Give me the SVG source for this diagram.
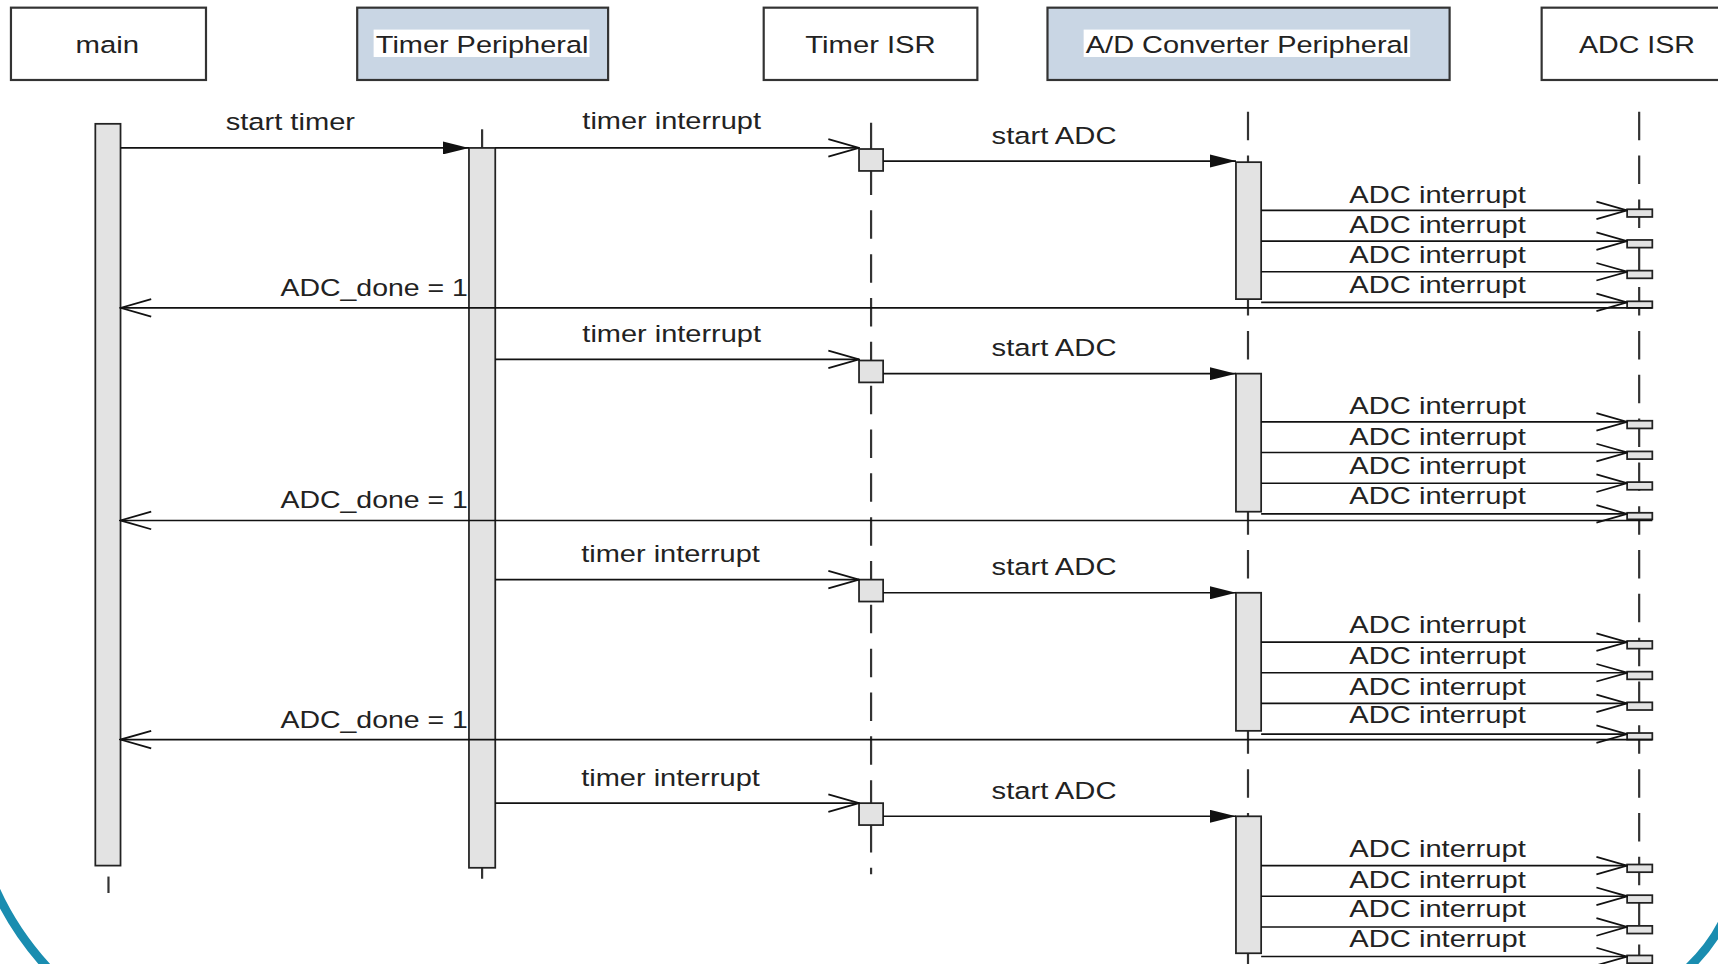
<svg xmlns="http://www.w3.org/2000/svg" width="1718" height="964" viewBox="0 0 1718 964">
<defs>
<style>
.box{stroke:#333;stroke-width:2}
.w{fill:#fff}
.b{fill:#c9d6e4}
.t{font-family:"Liberation Sans",Arial,sans-serif;font-size:22px;fill:#222;text-anchor:middle}
.msg{stroke:#111;stroke-width:1.5;fill:none}
.act{fill:#e3e3e3;stroke:#222;stroke-width:1.6}
.life{stroke:#333;stroke-width:2;stroke-dasharray:26 14;fill:none}
.tick{stroke:#333;stroke-width:2}
.sync{marker-end:url(#fill)}
.async{marker-end:url(#open)}
</style>
<marker id="fill" viewBox="0 0 24 12" refX="24" refY="6" markerWidth="24" markerHeight="12" markerUnits="userSpaceOnUse" orient="auto">
<path d="M0,0 L24,6 L0,12 z" fill="#111"/>
</marker>
<marker id="open" viewBox="0 0 30 20" refX="29" refY="10" markerWidth="30" markerHeight="20" markerUnits="userSpaceOnUse" orient="auto">
<path d="M1,2 L29,10 L1,18" fill="none" stroke="#111" stroke-width="1.6"/>
</marker>
</defs>
<rect width="1718" height="964" fill="#fff"/>
<g transform="scale(1.0957)">
<g id="node-main">
<rect class="box w" x="10" y="7" width="178" height="66"/>
<text class="t" x="98" y="48" textLength="58" lengthAdjust="spacingAndGlyphs">main</text>
</g>
<g id="node-timer-peripheral">
<rect class="box b" x="326" y="7" width="229" height="66"/>
<rect x="341" y="27" width="197" height="25" fill="#fff"/>
<text class="t" x="440" y="48" textLength="194" lengthAdjust="spacingAndGlyphs">Timer Peripheral</text>
</g>
<g id="node-timer-isr">
<rect class="box w" x="697" y="7" width="195" height="66"/>
<text class="t" x="794.5" y="48" textLength="119" lengthAdjust="spacingAndGlyphs">Timer ISR</text>
</g>
<g id="node-adc-peripheral">
<rect class="box b" x="956" y="7" width="367" height="66"/>
<rect x="989" y="27" width="298" height="25" fill="#fff"/>
<text class="t" x="1138.5" y="48" textLength="295" lengthAdjust="spacingAndGlyphs">A/D Converter Peripheral</text>
</g>
<g id="node-adc-isr">
<rect class="box w" x="1407" y="7" width="190" height="66"/>
<text class="t" x="1494" y="48" textLength="106" lengthAdjust="spacingAndGlyphs">ADC ISR</text>
</g>

<g id="lifelines">
<line class="life" x1="795" y1="112" x2="795" y2="798"/>
<line class="life" x1="1139" y1="102" x2="1139" y2="880"/>
<line class="life" x1="1496" y1="102" x2="1496" y2="880"/>
<line class="tick" x1="99" y1="800" x2="99" y2="815"/>
<line class="tick" x1="440" y1="118" x2="440" y2="135"/>
<line class="tick" x1="440" y1="792" x2="440" y2="802"/>
<rect class="act" x="87" y="113" width="23" height="677"/>
<rect class="act" x="428" y="135" width="24" height="657"/>
<rect class="act" x="1128" y="148" width="23" height="125"/>
<rect class="act" x="1128" y="341" width="23" height="126"/>
<rect class="act" x="1128" y="541" width="23" height="126"/>
<rect class="act" x="1128" y="745" width="23" height="125"/>
<rect class="act" x="784" y="136" width="22" height="20"/>
<rect class="act" x="784" y="329" width="22" height="20"/>
<rect class="act" x="784" y="529" width="22" height="20"/>
<rect class="act" x="784" y="733" width="22" height="20"/>
</g>

<g id="adc-isr-activations">
<rect class="act" x="1485" y="191" width="23" height="7"/>
<rect class="act" x="1485" y="219" width="23" height="7"/>
<rect class="act" x="1485" y="247" width="23" height="7"/>
<rect class="act" x="1485" y="275" width="23" height="6"/>
<rect class="act" x="1485" y="384" width="23" height="7"/>
<rect class="act" x="1485" y="412" width="23" height="7"/>
<rect class="act" x="1485" y="440" width="23" height="7"/>
<rect class="act" x="1485" y="468" width="23" height="6"/>
<rect class="act" x="1485" y="585" width="23" height="7"/>
<rect class="act" x="1485" y="613" width="23" height="7"/>
<rect class="act" x="1485" y="641" width="23" height="7"/>
<rect class="act" x="1485" y="669" width="23" height="6"/>
<rect class="act" x="1485" y="789" width="23" height="7"/>
<rect class="act" x="1485" y="817" width="23" height="7"/>
<rect class="act" x="1485" y="845" width="23" height="7"/>
<rect class="act" x="1485" y="872" width="23" height="7"/>
</g>

<g id="connectors">
<line class="msg sync" x1="110" y1="135" x2="428" y2="135"/>
<!-- cycle 1 -->
<line class="msg async" x1="452" y1="135" x2="784" y2="135"/>
<line class="msg sync" x1="806" y1="147" x2="1128" y2="147"/>
<line class="msg async" x1="1151" y1="192" x2="1485" y2="192"/>
<line class="msg async" x1="1151" y1="220" x2="1485" y2="220"/>
<line class="msg async" x1="1151" y1="248" x2="1485" y2="248"/>
<line class="msg async" x1="1151" y1="276" x2="1485" y2="276"/>
<line class="msg async" x1="1508" y1="281" x2="110" y2="281"/>
<!-- cycle 2 -->
<line class="msg async" x1="452" y1="328" x2="784" y2="328"/>
<line class="msg sync" x1="806" y1="341" x2="1128" y2="341"/>
<line class="msg async" x1="1151" y1="385" x2="1485" y2="385"/>
<line class="msg async" x1="1151" y1="413" x2="1485" y2="413"/>
<line class="msg async" x1="1151" y1="441" x2="1485" y2="441"/>
<line class="msg async" x1="1151" y1="469" x2="1485" y2="469"/>
<line class="msg async" x1="1508" y1="475" x2="110" y2="475"/>
<!-- cycle 3 -->
<line class="msg async" x1="452" y1="529" x2="784" y2="529"/>
<line class="msg sync" x1="806" y1="541" x2="1128" y2="541"/>
<line class="msg async" x1="1151" y1="586" x2="1485" y2="586"/>
<line class="msg async" x1="1151" y1="614" x2="1485" y2="614"/>
<line class="msg async" x1="1151" y1="642" x2="1485" y2="642"/>
<line class="msg async" x1="1151" y1="670" x2="1485" y2="670"/>
<line class="msg async" x1="1508" y1="675" x2="110" y2="675"/>
<!-- cycle 4 -->
<line class="msg async" x1="452" y1="733" x2="784" y2="733"/>
<line class="msg sync" x1="806" y1="745" x2="1128" y2="745"/>
<line class="msg async" x1="1151" y1="790" x2="1485" y2="790"/>
<line class="msg async" x1="1151" y1="818" x2="1485" y2="818"/>
<line class="msg async" x1="1151" y1="846" x2="1485" y2="846"/>
<line class="msg async" x1="1151" y1="873" x2="1485" y2="873"/>
</g>

<g id="labels">
<text class="t" x="265" y="119" textLength="118" lengthAdjust="spacingAndGlyphs">start timer</text>

<text class="t" x="613" y="118" textLength="163" lengthAdjust="spacingAndGlyphs">timer interrupt</text>
<text class="t" x="962" y="131" textLength="114" lengthAdjust="spacingAndGlyphs">start ADC</text>
<text class="t" x="1312" y="185" textLength="161" lengthAdjust="spacingAndGlyphs">ADC interrupt</text>
<text class="t" x="1312" y="213" textLength="161" lengthAdjust="spacingAndGlyphs">ADC interrupt</text>
<text class="t" x="1312" y="240" textLength="161" lengthAdjust="spacingAndGlyphs">ADC interrupt</text>
<text class="t" x="1312" y="267" textLength="161" lengthAdjust="spacingAndGlyphs">ADC interrupt</text>
<text class="t" x="341.5" y="270" textLength="171" lengthAdjust="spacingAndGlyphs">ADC_done = 1</text>

<text class="t" x="613" y="312" textLength="163" lengthAdjust="spacingAndGlyphs">timer interrupt</text>
<text class="t" x="962" y="325" textLength="114" lengthAdjust="spacingAndGlyphs">start ADC</text>
<text class="t" x="1312" y="378" textLength="161" lengthAdjust="spacingAndGlyphs">ADC interrupt</text>
<text class="t" x="1312" y="406" textLength="161" lengthAdjust="spacingAndGlyphs">ADC interrupt</text>
<text class="t" x="1312" y="433" textLength="161" lengthAdjust="spacingAndGlyphs">ADC interrupt</text>
<text class="t" x="1312" y="460" textLength="161" lengthAdjust="spacingAndGlyphs">ADC interrupt</text>
<text class="t" x="341.5" y="464" textLength="171" lengthAdjust="spacingAndGlyphs">ADC_done = 1</text>

<text class="t" x="612" y="513" textLength="163" lengthAdjust="spacingAndGlyphs">timer interrupt</text>
<text class="t" x="962" y="525" textLength="114" lengthAdjust="spacingAndGlyphs">start ADC</text>
<text class="t" x="1312" y="578" textLength="161" lengthAdjust="spacingAndGlyphs">ADC interrupt</text>
<text class="t" x="1312" y="606" textLength="161" lengthAdjust="spacingAndGlyphs">ADC interrupt</text>
<text class="t" x="1312" y="634" textLength="161" lengthAdjust="spacingAndGlyphs">ADC interrupt</text>
<text class="t" x="1312" y="660" textLength="161" lengthAdjust="spacingAndGlyphs">ADC interrupt</text>
<text class="t" x="341.5" y="664" textLength="171" lengthAdjust="spacingAndGlyphs">ADC_done = 1</text>

<text class="t" x="612" y="717" textLength="163" lengthAdjust="spacingAndGlyphs">timer interrupt</text>
<text class="t" x="962" y="729" textLength="114" lengthAdjust="spacingAndGlyphs">start ADC</text>
<text class="t" x="1312" y="782" textLength="161" lengthAdjust="spacingAndGlyphs">ADC interrupt</text>
<text class="t" x="1312" y="810" textLength="161" lengthAdjust="spacingAndGlyphs">ADC interrupt</text>
<text class="t" x="1312" y="837" textLength="161" lengthAdjust="spacingAndGlyphs">ADC interrupt</text>
<text class="t" x="1312" y="864" textLength="161" lengthAdjust="spacingAndGlyphs">ADC interrupt</text>
</g>

<g id="frame" fill="none" stroke="#1a8db0" stroke-width="8">
<path d="M-4,812 Q14,852 46,886"/>
<path d="M1574,838 Q1562,864 1538,886"/>
</g>
</g>
</svg>
